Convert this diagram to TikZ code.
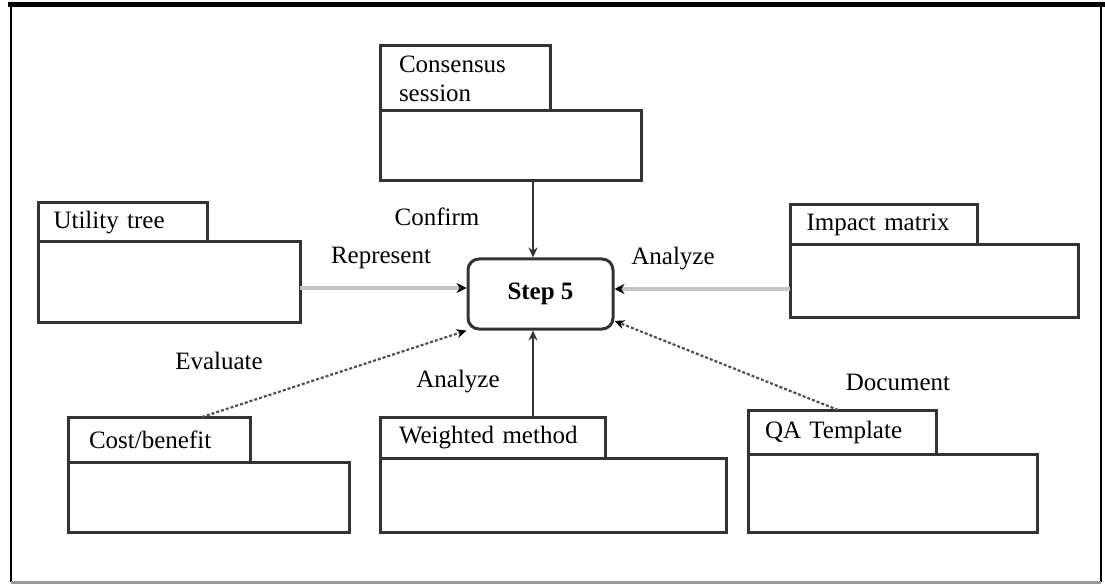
\documentclass[tikz,border=0pt]{standalone}
\usepackage{fontspec}
\setmainfont{Liberation Serif}
\usetikzlibrary{arrows.meta,calc}
\definecolor{boxline}{HTML}{333333}
\definecolor{lightline}{HTML}{C4C4C4}
\definecolor{dashline}{HTML}{505050}
\begin{document}
\begin{tikzpicture}[x=1pt,y=-1pt,
  txt/.style={font=\fontsize{25}{29}\selectfont, inner sep=0pt},
  pbody/.style={draw=boxline, line width=3pt, fill=white, anchor=north west, inner sep=0pt, outer sep=0pt},
  ptab/.style={draw=boxline, line width=3pt, fill=white, anchor=south west, inner sep=0pt, outer sep=0pt,
     font=\fontsize{25}{29}\selectfont, align=left},
  stepbox/.style={draw=boxline, line width=3pt, rounded corners=11pt, minimum width=145pt, minimum height=70pt,
     inner sep=0pt, font=\bfseries\fontsize{25}{29}\selectfont},
  solidarrow/.style={draw=boxline, line width=2.5pt, -{Stealth[length=10pt,width=9pt]}},
  grayarrow/.style={draw=lightline, line width=4pt, -{Stealth[length=10pt,width=10pt,color=black]}},
  dasharrow/.style={draw=dashline, line width=2.2pt, dash pattern=on 3pt off 2pt, -{Stealth[length=10pt,width=9pt,color=black]}}
]
\useasboundingbox (0,0) rectangle (1105,585);
% outer frame
\draw[black, line width=2.5pt] (11,5) -- (11,582);
\draw[black, line width=2.5pt] (1101,5) -- (1101,582);
\draw[black!40, line width=3pt] (11,582) -- (1101,582);
\draw[black, line width=5.5pt] (8,4.5) -- (1105,4.5);

% Consensus session
\node[pbody, minimum width=261pt, minimum height=70pt] (cb) at (380,111) {};
\node[ptab, minimum width=170pt, minimum height=65pt, text width=160pt] (ct) at (cb.north west)
  {\hspace*{14pt}Consensus\\\hspace*{14pt}session};

% Utility tree
\node[pbody, minimum width=262pt, minimum height=80pt] (ub) at (38,242) {};
\node[ptab, minimum width=169pt, minimum height=39pt, text width=160pt] (ut) at (ub.north west)
  {\hspace*{11pt}Utility tree};

% Impact matrix
\node[pbody, minimum width=288pt, minimum height=72pt] (ib) at (790,245) {};
\node[ptab, minimum width=187pt, minimum height=40pt, text width=178pt] (it) at (ib.north west)
  {\hspace*{12pt}Impact matrix};

% Cost/benefit
\node[pbody, minimum width=281pt, minimum height=70pt] (kb) at (68,462) {};
\node[ptab, minimum width=182pt, minimum height=45pt, text width=172pt] (kt) at (kb.north west)
  {\hspace*{16pt}Cost/benefit};

% Weighted method
\node[pbody, minimum width=346pt, minimum height=74pt] (wb) at (380,458) {};
\node[ptab, minimum width=225pt, minimum height=41pt, text width=215pt] (wt) at (wb.north west)
  {\hspace*{14pt}Weighted method};

% QA Template
\node[pbody, minimum width=289pt, minimum height=78pt] (qb) at (748,454) {};
\node[ptab, minimum width=188pt, minimum height=44pt, text width=178pt] (qt) at (qb.north west)
  {\hspace*{12pt}QA Template};

% Step 5
\node[stepbox] (step) at (540.5,294) {Step 5};

% helper coordinates
\coordinate (xc) at (533,0);
\coordinate (yl) at (0,288);
\coordinate (yr) at (0,289);
\coordinate (xk) at (202,0);
\coordinate (xq) at (838,0);

% connectors
\draw[solidarrow] (cb.south -| xc) -- (step.north -| xc);
\draw[solidarrow] (wt.north -| xc) -- (step.south -| xc);
\draw[grayarrow] (ub.east |- yl) -- (step.west |- yl);
\draw[grayarrow] (ib.west |- yr) -- (step.east |- yr);
\draw[dasharrow] (kt.north -| xk) -- (step.south west);
\draw[dasharrow] (qt.north -| xq) -- (step.-20);

% labels
\node[txt] (lconfirm) at (437,217) {Confirm};
\node[txt] (lrep) at (381,258) {Represent};
\node[txt] (lanr) at (673,259) {Analyze};
\node[txt] (leval) at (219,361) {Evaluate};
\node[txt] (lanb) at (458,382) {Analyze};
\node[txt] (ldoc) at (898,382) {Document};
\end{tikzpicture}
\end{document}
